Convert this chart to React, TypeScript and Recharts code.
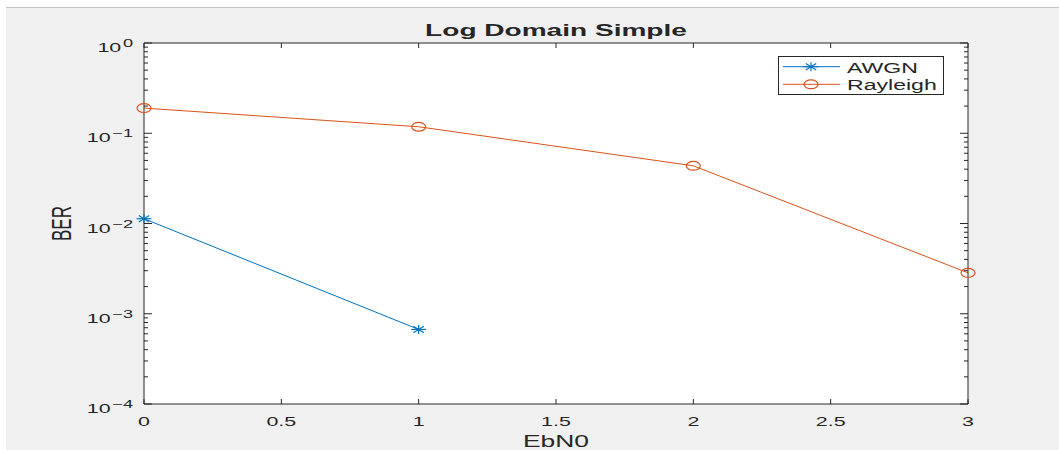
import React from 'react';
import { LineChart, Line, XAxis, YAxis, Legend, CartesianGrid, Label } from 'recharts';

// ---- data ----
const ebn0 = [0, 1, 2, 3];
const awgnBer = [0.0113, 0.00067];
const rayleighBer = [0.19, 0.118, 0.0436, 0.00284];
const xTicks = [0, 0.5, 1, 1.5, 2, 2.5, 3];
const yDecades = [1e-4, 1e-3, 1e-2, 1e-1, 1];
const yMinorMultipliers = [2, 3, 4, 5, 6, 7, 8, 9];
const TITLE = 'Log Domain Simple';
const X_LABEL = 'EbN0';
const Y_LABEL = 'BER';
const SERIES_AWGN = 'AWGN';
const SERIES_RAY = 'Rayleigh';

const data = ebn0.map((x, i) => ({ ebn0: x, awgn: awgnBer[i], rayleigh: rayleighBer[i] }));
const yTicks = [
  ...yDecades,
  ...yDecades.slice(0, -1).flatMap((d) => yMinorMultipliers.map((m) => m * d)),
].sort((a, b) => a - b);

// ---- style ----
const AWGN_COLOR = '#0072BD';
const RAY_COLOR = '#D95319';
const AXIS = '#262626';
const SX = 1.65;
const FONT = "'Liberation Sans', Arial, Helvetica, sans-serif";

function SText({ x, y, anchor = 'middle', size = 13, weight = 'normal', rotate = 0, children }: any) {
  return (
    <text
      transform={`translate(${x},${y}) scale(${SX},1)${rotate ? ` rotate(${rotate})` : ''}`}
      textAnchor={anchor}
      fontSize={size}
      fontWeight={weight}
      fontFamily={FONT}
      fill={AXIS}
    >
      {children}
    </text>
  );
}

function CircleMarker({ cx, cy, color }: any) {
  return <ellipse cx={cx} cy={cy} rx={7} ry={4.4} fill="none" stroke={color} strokeWidth={1.2} />;
}

function StarMarker({ cx, cy, color }: any) {
  const rx = 7.4, ry = 4.5, dx = 5.2, dy = 3.2;
  return (
    <g stroke={color} strokeWidth={1.2}>
      <line x1={cx - rx} y1={cy} x2={cx + rx} y2={cy} />
      <line x1={cx} y1={cy - ry} x2={cx} y2={cy + ry} />
      <line x1={cx - dx} y1={cy - dy} x2={cx + dx} y2={cy + dy} />
      <line x1={cx - dx} y1={cy + dy} x2={cx + dx} y2={cy - dy} />
    </g>
  );
}

function XTick(props: any) {
  const { x, y, payload, top } = props;
  return (
    <g>
      <line x1={x} y1={y} x2={x} y2={top ? y + 5 : y - 5} stroke={AXIS} strokeWidth={1} />
      {!top && (
        <SText x={x} y={y + 22} size={13}>
          {String(payload.value)}
        </SText>
      )}
    </g>
  );
}

function YTick(props: any) {
  const { x, y, payload, right } = props;
  const v = payload.value;
  const e = Math.round(Math.log10(v));
  const major = Math.abs(v / Math.pow(10, e) - 1) < 1e-6;
  const len = major ? 8 : 4;
  return (
    <g>
      <line x1={x} y1={y} x2={right ? x - len : x + len} y2={y} stroke={AXIS} strokeWidth={1} />
      {!right && major && (
        <text
          transform={`translate(${x - 11},${y + 9}) scale(${SX},1)`}
          textAnchor="end"
          fontSize={13}
          fontFamily={FONT}
          fill={AXIS}
        >
          10
          <tspan fontSize={11} dy={-5} dx={1}>
            {e === 0 ? '0' : '\u2212' + String(-e)}
          </tspan>
        </text>
      )}
    </g>
  );
}

function LegendBox() {
  const rows = [
    { name: SERIES_AWGN, color: AWGN_COLOR, marker: 'star', y: 10.7, ty: 16.7 },
    { name: SERIES_RAY, color: RAY_COLOR, marker: 'circle', y: 28.3, ty: 34 },
  ];
  return (
    <svg width={166} height={39} style={{ display: 'block' }}>
      <rect x={0.5} y={0.5} width={165} height={38} fill="#fff" stroke={AXIS} strokeWidth={1} />
      {rows.map((r) => (
        <g key={r.name}>
          <line x1={5} y1={r.y} x2={62} y2={r.y} stroke={r.color} strokeWidth={1} />
          {r.marker === 'star' ? (
            <StarMarker cx={33} cy={r.y} color={r.color} />
          ) : (
            <CircleMarker cx={33} cy={r.y} color={r.color} />
          )}
          <SText x={69} y={r.ty} anchor="start" size={14}>
            {r.name}
          </SText>
        </g>
      ))}
    </svg>
  );
}

const dotRenderer = (kind: string, color: string) => (p: any) => {
  const { cx, cy, index } = p;
  if (cx == null || cy == null || Number.isNaN(cy)) return <g key={`d-${kind}-${index}`} />;
  return kind === 'star' ? (
    <StarMarker key={`d-${kind}-${index}`} cx={cx} cy={cy} color={color} />
  ) : (
    <CircleMarker key={`d-${kind}-${index}`} cx={cx} cy={cy} color={color} />
  );
};

export default function App() {
  return (
    <div style={{ position: 'fixed', left: 0, top: 0, width: 1059, height: 450, background: '#fff' }}>
      <div
        style={{
          position: 'absolute',
          left: 6,
          top: 7,
          width: 1053,
          height: 443,
          background: '#f0f0f0',
          borderTop: '1px solid #c4c4c4',
          boxSizing: 'border-box',
        }}
      />
      <div style={{ position: 'absolute', left: 0, top: 0 }}>
        <LineChart width={1059} height={450} data={data} margin={{ top: 42, right: 90, bottom: 45, left: 143 }}>
          <CartesianGrid fill="#fff" stroke="none" horizontal={false} vertical={false} />
          <XAxis
            dataKey="ebn0"
            type="number"
            domain={[0, 3]}
            ticks={xTicks}
            interval={0}
            height={1}
            tickSize={0}
            tickMargin={0}
            tickLine={false}
            axisLine={{ stroke: AXIS }}
            tick={(p: any) => <XTick {...p} />}
          >
            <Label
              content={(p: any) => {
                const vb = p.viewBox || {};
                return (
                  <SText x={vb.x + vb.width / 2} y={404 + 43} size={16}>
                    {X_LABEL}
                  </SText>
                );
              }}
            />
          </XAxis>
          <XAxis
            xAxisId="top"
            orientation="top"
            type="number"
            domain={[0, 3]}
            ticks={xTicks}
            interval={0}
            height={1}
            tickSize={0}
            tickMargin={0}
            tickLine={false}
            axisLine={{ stroke: AXIS }}
            tick={(p: any) => <XTick {...p} top />}
          >
            <Label
              content={(p: any) => {
                const vb = p.viewBox || {};
                return (
                  <SText x={vb.x + vb.width / 2} y={36} size={17} weight="bold">
                    {TITLE}
                  </SText>
                );
              }}
            />
          </XAxis>
          <YAxis
            type="number"
            scale="log"
            domain={[1e-4, 1]}
            allowDataOverflow
            ticks={yTicks}
            interval={0}
            width={1}
            tickSize={0}
            tickMargin={0}
            tickLine={false}
            axisLine={{ stroke: AXIS }}
            tick={(p: any) => <YTick {...p} />}
          >
            <Label
              content={(p: any) => {
                const vb = p.viewBox || {};
                return (
                  <SText x={71} y={vb.y + vb.height / 2} size={17} rotate={-90}>
                    {Y_LABEL}
                  </SText>
                );
              }}
            />
          </YAxis>
          <YAxis
            yAxisId="right"
            orientation="right"
            type="number"
            scale="log"
            domain={[1e-4, 1]}
            allowDataOverflow
            ticks={yTicks}
            interval={0}
            width={1}
            tickSize={0}
            tickMargin={0}
            tickLine={false}
            axisLine={{ stroke: AXIS }}
            tick={(p: any) => <YTick {...p} right />}
          />
          <Legend
            layout="vertical"
            align="center"
            verticalAlign="middle"
            wrapperStyle={{ left: 778, top: 56, width: 166, height: 39 }}
            content={() => <LegendBox />}
          />
          <Line
            type="linear"
            dataKey="awgn"
            name={SERIES_AWGN}
            stroke={AWGN_COLOR}
            strokeWidth={1}
            dot={dotRenderer('star', AWGN_COLOR)}
            activeDot={false}
            isAnimationActive={false}
          />
          <Line
            type="linear"
            dataKey="rayleigh"
            name={SERIES_RAY}
            stroke={RAY_COLOR}
            strokeWidth={1}
            dot={dotRenderer('circle', RAY_COLOR)}
            activeDot={false}
            isAnimationActive={false}
          />
        </LineChart>
      </div>
    </div>
  );
}
